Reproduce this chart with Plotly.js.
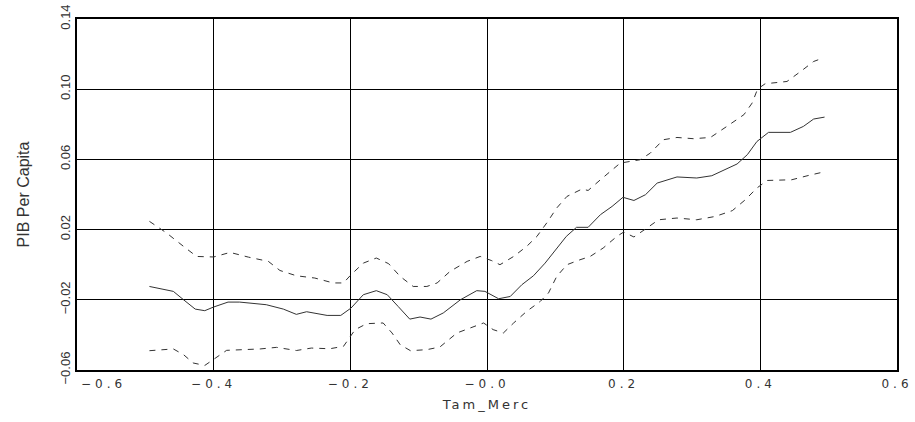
<!DOCTYPE html>
<html>
<head>
<meta charset="utf-8">
<script src="https://cdn.plot.ly/plotly-3.0.1.min.js"></script>
<style>
  html, body { margin: 0; padding: 0; background: #fff; }
  #chart { width: 915px; height: 422px; }
  .xtick text { letter-spacing: 4px; }
  .annotation-text { letter-spacing: 4px; }
  .g-xtitle text { letter-spacing: 3px; }
</style>
</head>
<body>
<div id="chart"></div>
<script>
// Tam_Merc positions and PIB Per Capita values
const midX = [-0.494,-0.459,-0.444,-0.427,-0.413,-0.400,-0.379,-0.362,-0.323,-0.298,-0.279,-0.264,-0.234,-0.214,-0.199,-0.181,-0.162,-0.146,-0.130,-0.113,-0.098,-0.082,-0.064,-0.039,-0.015,-0.003,0.017,0.034,0.051,0.068,0.085,0.102,0.116,0.131,0.148,0.166,0.183,0.199,0.215,0.232,0.249,0.278,0.307,0.329,0.346,0.366,0.381,0.395,0.412,0.444,0.463,0.478,0.494];
const midY = [-0.0124,-0.0152,-0.0200,-0.0253,-0.0262,-0.0241,-0.0213,-0.0213,-0.0228,-0.0253,-0.0283,-0.0268,-0.0289,-0.0289,-0.0247,-0.0171,-0.0148,-0.0171,-0.0238,-0.0310,-0.0298,-0.0310,-0.0275,-0.0200,-0.0148,-0.0152,-0.0194,-0.0181,-0.0114,-0.0063,0.0009,0.0095,0.0161,0.0213,0.0213,0.0285,0.0332,0.0384,0.0366,0.0399,0.0465,0.0500,0.0494,0.0507,0.0537,0.0574,0.0627,0.0702,0.0754,0.0754,0.0788,0.0830,0.0841];

const upX = [-0.494,-0.469,-0.444,-0.425,-0.400,-0.376,-0.349,-0.320,-0.303,-0.279,-0.252,-0.225,-0.210,-0.199,-0.181,-0.162,-0.144,-0.127,-0.108,-0.088,-0.073,-0.054,-0.029,-0.010,0.007,0.019,0.039,0.058,0.073,0.088,0.102,0.117,0.139,0.148,0.166,0.195,0.224,0.239,0.258,0.278,0.302,0.327,0.351,0.376,0.388,0.396,0.407,0.439,0.459,0.478,0.492];
const upY = [0.0247,0.0181,0.0104,0.0047,0.0044,0.0070,0.0043,0.0019,-0.0033,-0.0063,-0.0076,-0.0104,-0.0104,-0.0057,0.0009,0.0038,0.0006,-0.0067,-0.0124,-0.0124,-0.0104,-0.0038,0.0019,0.0047,0.0023,0.0000,0.0047,0.0104,0.0161,0.0241,0.0323,0.0389,0.0431,0.0423,0.0484,0.0579,0.0598,0.0636,0.0712,0.0725,0.0718,0.0725,0.0788,0.0855,0.0921,0.1001,0.1031,0.1044,0.1101,0.1158,0.1178];

const loX = [-0.494,-0.459,-0.444,-0.430,-0.413,-0.400,-0.381,-0.332,-0.308,-0.279,-0.257,-0.230,-0.210,-0.193,-0.176,-0.152,-0.139,-0.127,-0.112,-0.088,-0.069,-0.044,-0.025,-0.005,0.009,0.024,0.039,0.058,0.078,0.090,0.102,0.117,0.136,0.151,0.170,0.190,0.200,0.215,0.234,0.251,0.278,0.307,0.334,0.359,0.378,0.395,0.410,0.446,0.471,0.490];
const loY = [-0.0490,-0.0480,-0.0513,-0.0560,-0.0574,-0.0541,-0.0488,-0.0480,-0.0471,-0.0489,-0.0475,-0.0479,-0.0465,-0.0370,-0.0336,-0.0332,-0.0389,-0.0456,-0.0490,-0.0484,-0.0469,-0.0389,-0.0361,-0.0332,-0.0370,-0.0389,-0.0332,-0.0266,-0.0209,-0.0161,-0.0067,0.0000,0.0028,0.0047,0.0095,0.0161,0.0186,0.0158,0.0209,0.0256,0.0266,0.0256,0.0275,0.0308,0.0370,0.0437,0.0480,0.0484,0.0509,0.0526];

// The first x label (−0.6) is drawn just right of the corner, as in the reference
const xTickVals = [-0.6,-0.4,-0.2,0,0.2,0.4,0.6];
const xTickText = ["","\u22120.4","\u22120.2","\u22120.0","0.2","0.4","0.6"];
const xFirstLabel = "\u22120.6";
const yTickVals = [-0.06,-0.02,0.02,0.06,0.10,0.14];
const yTickText = ["\u22120.06","\u22120.02","0.02","0.06","0.10","0.14"];

const sans = '"Liberation Sans", Arial, sans-serif';
const xFont = {family: '"DejaVu Sans", sans-serif', size: 12, color: '#333'};

const traces = [
  {x: upX, y: upY, mode: 'lines', line: {color: '#333', width: 1, dash: '6px,6px'}, hoverinfo: 'skip'},
  {x: loX, y: loY, mode: 'lines', line: {color: '#333', width: 1, dash: '6px,6px'}, hoverinfo: 'skip'},
  {x: midX, y: midY, mode: 'lines', line: {color: '#333', width: 1}, hoverinfo: 'skip'}
];

const layout = {
  width: 915, height: 422,
  margin: {l: 77, r: 18, t: 19, b: 52},
  paper_bgcolor: '#fff', plot_bgcolor: '#fff',
  showlegend: false,
  xaxis: {
    range: [-0.6, 0.6],
    tickvals: xTickVals, ticktext: xTickText,
    showgrid: true, gridcolor: '#000', gridwidth: 1,
    zeroline: false,
    showline: true, mirror: true, linecolor: '#000', linewidth: 2,
    ticks: '',
    ticklabelstandoff: 2,
    tickfont: xFont,
    title: {text: 'Tam_Merc', font: {family: '"DejaVu Sans", sans-serif', size: 13, color: '#333'}, standoff: 9}
  },
  yaxis: {
    range: [-0.06, 0.14],
    tickvals: yTickVals, ticktext: yTickText,
    tickangle: -90,
    showgrid: true, gridcolor: '#000', gridwidth: 1,
    zeroline: false,
    showline: true, mirror: true, linecolor: '#000', linewidth: 2,
    ticks: '',
    ticklabelstandoff: 0,
    tickfont: {family: sans, size: 13, color: '#333'},
    title: {text: 'PIB Per Capita', font: {family: sans, size: 16, color: '#333'}, standoff: 24}
  },
  annotations: [{
    x: xTickVals[0], xref: 'x', y: 0, yref: 'paper',
    text: xFirstLabel, showarrow: false,
    xanchor: 'left', yanchor: 'top', xshift: 2, yshift: -5,
    font: xFont
  }]
};

Plotly.newPlot('chart', traces, layout, {displayModeBar: false, staticPlot: true});
</script>
</body>
</html>
